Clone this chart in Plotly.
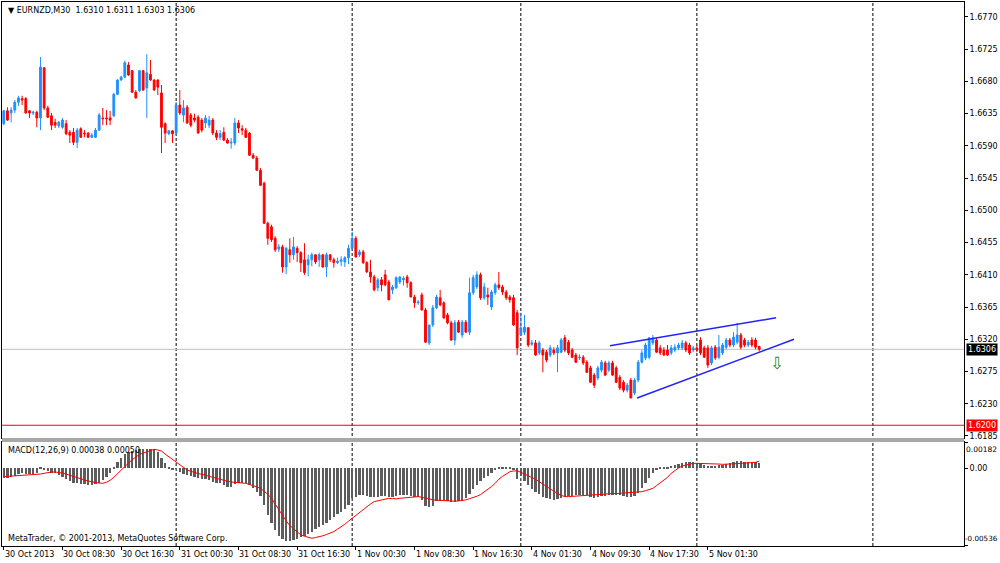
import plotly.graph_objects as go

# ---------------- data (EURNZD, M30) ----------------
open_ = [1.6621,1.6639,1.6636,1.6640,1.6651,1.6656,1.6656,1.6639,1.6636,1.6637,
1.6629,1.6699,1.6643,1.6632,1.6623,1.6618,1.6616,1.6621,1.6609,1.6609,
1.6595,1.6614,1.6608,1.6608,1.6602,1.6602,1.6612,1.6629,1.6629,1.6629,
1.6632,1.6662,1.6682,1.6686,1.6703,1.6695,1.6665,1.6667,1.6695,1.6671,
1.6690,1.6682,1.6682,1.6664,1.6621,1.6607,1.6611,1.6608,1.6647,1.6633,
1.6644,1.6633,1.6629,1.6630,1.6626,1.6622,1.6619,1.6626,1.6608,1.6602,
1.6609,1.6598,1.6594,1.6594,1.6622,1.6614,1.6612,1.6608,1.6577,1.6573,
1.6556,1.6538,1.6482,1.6477,1.6461,1.6446,1.6449,1.6421,1.6445,1.6438,
1.6447,1.6441,1.6431,1.6424,1.6431,1.6438,1.6431,1.6438,1.6421,1.6438,
1.6431,1.6427,1.6429,1.6428,1.6434,1.6447,1.6461,1.6438,1.6442,1.6427,
1.6414,1.6407,1.6392,1.6403,1.6410,1.6400,1.6389,1.6392,1.6400,1.6403,
1.6407,1.6399,1.6379,1.6371,1.6382,1.6361,1.6315,1.6340,1.6364,1.6378,
1.6371,1.6354,1.6343,1.6319,1.6344,1.6326,1.6344,1.6330,1.6385,1.6393,
1.6410,1.6378,1.6382,1.6365,1.6385,1.6396,1.6393,1.6386,1.6379,1.6378,
1.6357,1.6326,1.6330,1.6336,1.6313,1.6315,1.6301,1.6305,1.6302,1.6298,
1.6305,1.6301,1.6302,1.6322,1.6316,1.6305,1.6298,1.6294,1.6295,1.6288,
1.6280,1.6270,1.6266,1.6277,1.6287,1.6277,1.6287,1.6280,1.6267,1.6260,
1.6249,1.6263,1.6245,1.6263,1.6288,1.6294,1.6295,1.6315,1.6319,1.6308,
1.6305,1.6305,1.6301,1.6305,1.6308,1.6308,1.6315,1.6312,1.6305,1.6308,
1.6319,1.6308,1.6308,1.6287,1.6309,1.6295,1.6301,1.6309,1.6319,1.6312,
1.6316,1.6326,1.6319,1.6312,1.6319,1.6319,1.6310]

high = [1.6640,1.6644,1.6644,1.6654,1.6660,1.6660,1.6658,1.6640,1.6639,1.6639,
1.6714,1.6700,1.6646,1.6636,1.6628,1.6625,1.6629,1.6626,1.6612,1.6615,
1.6615,1.6616,1.6612,1.6609,1.6608,1.6615,1.6636,1.6643,1.6640,1.6639,
1.6664,1.6683,1.6688,1.6709,1.6707,1.6696,1.6668,1.6696,1.6696,1.6718,
1.6710,1.6683,1.6683,1.6675,1.6623,1.6612,1.6612,1.6651,1.6668,1.6654,
1.6647,1.6636,1.6635,1.6633,1.6629,1.6633,1.6632,1.6629,1.6612,1.6612,
1.6616,1.6601,1.6601,1.6629,1.6626,1.6619,1.6615,1.6609,1.6580,1.6576,
1.6559,1.6540,1.6484,1.6480,1.6464,1.6453,1.6452,1.6449,1.6461,1.6463,
1.6450,1.6443,1.6454,1.6438,1.6441,1.6439,1.6441,1.6439,1.6441,1.6439,
1.6434,1.6434,1.6436,1.6436,1.6452,1.6470,1.6464,1.6445,1.6445,1.6429,
1.6431,1.6410,1.6406,1.6407,1.6417,1.6403,1.6396,1.6408,1.6408,1.6408,
1.6410,1.6401,1.6382,1.6375,1.6385,1.6364,1.6340,1.6368,1.6382,1.6389,
1.6373,1.6357,1.6346,1.6347,1.6347,1.6347,1.6347,1.6406,1.6410,1.6415,
1.6413,1.6399,1.6392,1.6389,1.6399,1.6414,1.6396,1.6389,1.6382,1.6382,
1.6361,1.6357,1.6354,1.6337,1.6319,1.6319,1.6318,1.6308,1.6305,1.6312,
1.6309,1.6312,1.6322,1.6326,1.6319,1.6308,1.6301,1.6299,1.6298,1.6291,
1.6283,1.6273,1.6283,1.6291,1.6290,1.6290,1.6290,1.6283,1.6270,1.6263,
1.6259,1.6266,1.6266,1.6291,1.6305,1.6315,1.6323,1.6326,1.6322,1.6312,
1.6309,1.6312,1.6312,1.6313,1.6315,1.6319,1.6318,1.6315,1.6311,1.6312,
1.6323,1.6311,1.6312,1.6311,1.6312,1.6326,1.6315,1.6322,1.6322,1.6330,
1.6343,1.6329,1.6322,1.6319,1.6323,1.6322,1.6311]

low = [1.6619,1.6625,1.6623,1.6636,1.6646,1.6647,1.6635,1.6629,1.6633,1.6616,
1.6612,1.6640,1.6629,1.6612,1.6615,1.6615,1.6614,1.6605,1.6594,1.6591,
1.6587,1.6601,1.6602,1.6601,1.6601,1.6601,1.6611,1.6619,1.6619,1.6619,
1.6630,1.6661,1.6681,1.6685,1.6688,1.6664,1.6656,1.6665,1.6667,1.6629,
1.6681,1.6667,1.6661,1.6580,1.6594,1.6605,1.6594,1.6605,1.6633,1.6623,
1.6621,1.6616,1.6623,1.6607,1.6609,1.6615,1.6615,1.6605,1.6598,1.6598,
1.6597,1.6593,1.6586,1.6591,1.6608,1.6605,1.6601,1.6576,1.6572,1.6555,
1.6534,1.6481,1.6452,1.6456,1.6442,1.6442,1.6413,1.6411,1.6427,1.6431,
1.6428,1.6414,1.6410,1.6408,1.6422,1.6425,1.6421,1.6420,1.6407,1.6428,
1.6420,1.6425,1.6422,1.6421,1.6425,1.6445,1.6434,1.6435,1.6425,1.6413,
1.6399,1.6387,1.6387,1.6387,1.6394,1.6375,1.6383,1.6390,1.6397,1.6395,
1.6392,1.6379,1.6364,1.6368,1.6360,1.6315,1.6312,1.6337,1.6362,1.6366,
1.6348,1.6341,1.6318,1.6312,1.6329,1.6322,1.6329,1.6326,1.6382,1.6390,
1.6375,1.6375,1.6368,1.6361,1.6382,1.6389,1.6382,1.6375,1.6371,1.6339,
1.6298,1.6325,1.6326,1.6309,1.6311,1.6297,1.6298,1.6274,1.6288,1.6295,
1.6298,1.6274,1.6301,1.6302,1.6298,1.6294,1.6287,1.6291,1.6284,1.6273,
1.6259,1.6252,1.6263,1.6274,1.6269,1.6274,1.6269,1.6259,1.6249,1.6246,
1.6246,1.6238,1.6242,1.6260,1.6286,1.6291,1.6292,1.6312,1.6301,1.6298,
1.6297,1.6297,1.6298,1.6302,1.6305,1.6305,1.6302,1.6298,1.6302,1.6302,
1.6298,1.6294,1.6280,1.6284,1.6291,1.6292,1.6298,1.6306,1.6309,1.6309,
1.6313,1.6306,1.6309,1.6309,1.6309,1.6306,1.6303]

close = [1.6639,1.6626,1.6640,1.6651,1.6657,1.6654,1.6636,1.6636,1.6637,1.6629,
1.6700,1.6643,1.6630,1.6619,1.6619,1.6623,1.6626,1.6607,1.6605,1.6595,
1.6612,1.6602,1.6607,1.6602,1.6605,1.6612,1.6633,1.6628,1.6628,1.6626,
1.6662,1.6682,1.6686,1.6706,1.6689,1.6665,1.6657,1.6695,1.6668,1.6692,
1.6682,1.6668,1.6672,1.6616,1.6608,1.6611,1.6607,1.6647,1.6636,1.6643,
1.6622,1.6619,1.6626,1.6608,1.6612,1.6629,1.6626,1.6608,1.6602,1.6607,
1.6598,1.6594,1.6595,1.6622,1.6615,1.6612,1.6602,1.6577,1.6573,1.6556,
1.6535,1.6482,1.6461,1.6459,1.6445,1.6449,1.6421,1.6447,1.6438,1.6449,
1.6441,1.6427,1.6413,1.6431,1.6438,1.6428,1.6438,1.6421,1.6438,1.6431,
1.6427,1.6429,1.6431,1.6434,1.6447,1.6461,1.6435,1.6442,1.6427,1.6414,
1.6407,1.6389,1.6403,1.6396,1.6396,1.6375,1.6393,1.6406,1.6407,1.6405,
1.6399,1.6379,1.6371,1.6372,1.6361,1.6316,1.6340,1.6364,1.6379,1.6368,
1.6350,1.6343,1.6319,1.6343,1.6330,1.6344,1.6330,1.6385,1.6406,1.6410,
1.6378,1.6393,1.6379,1.6386,1.6396,1.6392,1.6386,1.6378,1.6375,1.6340,
1.6308,1.6336,1.6337,1.6312,1.6315,1.6298,1.6315,1.6298,1.6291,1.6308,
1.6301,1.6308,1.6319,1.6305,1.6301,1.6295,1.6288,1.6295,1.6287,1.6274,
1.6260,1.6256,1.6280,1.6288,1.6270,1.6287,1.6270,1.6260,1.6252,1.6249,
1.6256,1.6238,1.6263,1.6288,1.6301,1.6312,1.6322,1.6322,1.6302,1.6301,
1.6298,1.6298,1.6308,1.6309,1.6312,1.6315,1.6305,1.6301,1.6308,1.6305,
1.6301,1.6295,1.6284,1.6308,1.6294,1.6309,1.6312,1.6319,1.6312,1.6323,
1.6326,1.6309,1.6312,1.6316,1.6312,1.6309,1.6306]

# MACD(12,26,9) in points (1 point = 0.00001)
macd_main_pts = [-64,-64,-57,-52,-39,-34,-39,-41,-39,-34,
7,-6,-16,-29,-34,-46,-57,-75,-87,-98,
-103,-108,-110,-112,-112,-108,-98,-80,-62,-29,
7,44,72,99,113,122,127,132,136,136,
136,132,115,69,35,7,-10,-4,-23,-39,
-46,-52,-57,-69,-75,-75,-80,-92,-98,-103,
-115,-126,-126,-108,-98,-98,-103,-115,-138,-161,
-190,-253,-322,-379,-425,-466,-489,-501,-501,-494,
-489,-476,-466,-453,-437,-420,-407,-391,-374,-356,
-338,-315,-299,-282,-253,-207,-195,-184,-184,-190,
-195,-195,-195,-190,-190,-195,-195,-190,-184,-184,
-184,-190,-195,-195,-218,-259,-264,-259,-223,-223,
-218,-223,-230,-230,-223,-223,-207,-177,-144,-115,
-85,-69,-52,-34,-6,7,12,7,7,-6,
-70,-55,-85,-115,-140,-160,-180,-197,-207,-213,
-218,-213,-207,-195,-190,-190,-184,-184,-184,-184,
-195,-207,-200,-190,-190,-186,-184,-184,-186,-190,
-195,-200,-190,-167,-138,-103,-69,-34,-11,5,
7,12,17,23,30,40,42,42,42,40,
35,23,17,17,17,21,26,30,35,42,
49,51,46,44,44,44,38]

macd_signal_pts = [-57,-55,-55,-52,-50,-50,-48,-48,-46,-41,
-39,-34,-29,-25,-25,-27,-32,-39,-48,-57,
-64,-73,-80,-87,-94,-98,-101,-103,-96,-82,
-62,-36,-11,17,37,60,81,97,106,115,
125,132,127,120,99,81,60,40,21,5,
-11,-20,-29,-36,-41,-48,-55,-62,-71,-80,
-85,-89,-94,-98,-98,-101,-103,-110,-119,-128,
-138,-158,-179,-207,-246,-289,-328,-363,-395,-418,
-439,-460,-469,-478,-483,-478,-473,-466,-457,-446,
-437,-420,-404,-386,-365,-344,-324,-303,-282,-264,
-246,-230,-223,-216,-209,-207,-209,-211,-207,-204,
-202,-200,-197,-195,-200,-204,-211,-218,-220,-223,
-225,-227,-230,-227,-225,-223,-218,-209,-202,-193,
-181,-163,-147,-126,-103,-75,-55,-39,-23,-18,
-16,-27,-39,-50,-62,-75,-92,-108,-126,-142,
-161,-174,-186,-195,-195,-193,-190,-188,-188,-186,
-184,-181,-181,-179,-177,-177,-174,-174,-172,-172,
-172,-170,-167,-165,-161,-154,-147,-138,-119,-98,
-80,-62,-34,-13,3,17,23,30,35,35,
35,35,35,33,30,30,28,28,30,33,
33,35,37,40,42,42,50]

macd_main = [v / 100000 for v in macd_main_pts]
macd_signal = [v / 100000 for v in macd_signal_pts]

# time axis labels (every 16 bars) and day separators (bar numbers)
time_label_bars = [0, 16, 32, 48, 64, 80, 96, 112, 128, 144, 160, 176, 192]
time_labels = ["30 Oct 2013", "30 Oct 08:30", "30 Oct 16:30", "31 Oct 00:30",
               "31 Oct 08:30", "31 Oct 16:30", "1 Nov 00:30", "1 Nov 08:30",
               "1 Nov 16:30", "4 Nov 01:30", "4 Nov 09:30", "4 Nov 17:30",
               "5 Nov 01:30"]
day_separator_bars = [47, 95, 141, 189, 237]

price_ticks = [1.6770, 1.6725, 1.6680, 1.6635, 1.6590, 1.6545, 1.6500, 1.6455,
               1.6410, 1.6365, 1.6320, 1.6275, 1.6230, 1.6185]
macd_max, macd_zero, macd_min = 0.00182, 0.0, -0.00536

bid_price = 1.6306
level_price = 1.6200

# wedge trend lines (bar number, price)
upper_line_bars = [165.3, 210.6]
upper_line_prices = [1.6311, 1.6350]
lower_line_bars = [172.7, 215.5]
lower_line_prices = [1.6238, 1.6320]
arrow_bar, arrow_price = 210.8, 1.6287

header = "\u25BC EURNZD,M30  1.6310 1.6311 1.6303 1.6306"
macd_header = "MACD(12,26,9) 0.00038 0.00050"
copyright_text = "MetaTrader, \u00A9 2001-2013, MetaQuotes Software Corp."

# ---------------- figure ----------------
idx = list(range(len(close)))
FONT = "DejaVu Sans"

fig = go.Figure()
fig.add_trace(go.Candlestick(
    x=idx, open=open_, high=high, low=low, close=close,
    increasing=dict(line=dict(color="#1E90FF", width=1), fillcolor="#1E90FF"),
    decreasing=dict(line=dict(color="#FF0000", width=1), fillcolor="#FF0000"),
    whiskerwidth=0, xaxis="x", yaxis="y", showlegend=False, hoverinfo="skip"))
fig.add_trace(go.Bar(
    x=idx, y=macd_main, width=0.62,
    marker=dict(color="#5c5c5c", line=dict(width=0)),
    xaxis="x2", yaxis="y2", showlegend=False, hoverinfo="skip"))
fig.add_trace(go.Scatter(
    x=idx, y=macd_signal, mode="lines", line=dict(color="#FF0000", width=1),
    xaxis="x2", yaxis="y2", showlegend=False, hoverinfo="skip"))

main_bottom = (546 - 438) / 544
macd_top = (546 - 442) / 544
x_range = [-0.49, 261.85]

axis_common = dict(showline=True, mirror=True, linecolor="black", linewidth=1,
                   showgrid=False, zeroline=False, automargin=False)

fig.update_layout(
    width=1000, height=563,
    margin=dict(l=2, r=36, t=2, b=17, autoexpand=False),
    paper_bgcolor="white", plot_bgcolor="white",
    font=dict(family=FONT, size=8, color="black"),
    showlegend=False,
    bargap=0,
    xaxis=dict(domain=[0, 1], range=x_range, anchor="y", showticklabels=False,
               ticks="", rangeslider=dict(visible=False), **axis_common),
    yaxis=dict(domain=[main_bottom, 1], range=[1.61822, 1.67909], side="right",
               tickvals=price_ticks, ticktext=[f"{v:.4f}" for v in price_ticks],
               ticks="outside", ticklen=3, tickcolor="black", anchor="x",
               tickfont=dict(family=FONT, size=8), **axis_common),
    xaxis2=dict(domain=[0, 1], range=x_range, anchor="y2", matches="x",
                tickvals=time_label_bars, ticktext=[""] * len(time_label_bars),
                ticks="outside", ticklen=3, tickcolor="black", **axis_common),
    yaxis2=dict(domain=[0, macd_top], range=[-0.005365, 0.001825], side="right",
                tickvals=[macd_max, macd_zero, macd_min], ticktext=["", "0.00", ""],
                anchor="x2", ticks="outside", ticklen=3, tickcolor="black",
                tickfont=dict(family=FONT, size=8), **axis_common),
)

shapes = []
for b in day_separator_bars:
    shapes.append(dict(type="line", xref="x", yref="paper", x0=b, x1=b, y0=0, y1=1,
                       line=dict(color="black", width=1, dash="3px,2px"), layer="below"))
shapes.append(dict(type="line", xref="x domain", yref="y", x0=0, x1=1,
                   y0=bid_price, y1=bid_price, line=dict(color="#C0C0C0", width=1),
                   layer="below"))
shapes.append(dict(type="line", xref="x domain", yref="y", x0=0, x1=1,
                   y0=level_price, y1=level_price, line=dict(color="#FF0000", width=1),
                   layer="below"))
shapes.append(dict(type="line", xref="x", yref="y",
                   x0=upper_line_bars[0], x1=upper_line_bars[1],
                   y0=upper_line_prices[0], y1=upper_line_prices[1],
                   line=dict(color="#2222FF", width=1.5)))
shapes.append(dict(type="line", xref="x", yref="y",
                   x0=lower_line_bars[0], x1=lower_line_bars[1],
                   y0=lower_line_prices[0], y1=lower_line_prices[1],
                   line=dict(color="#2222FF", width=1.5)))
# gap between the two panels
shapes.append(dict(type="rect", xref="paper", yref="paper", x0=0, x1=1,
                   y0=macd_top, y1=main_bottom, fillcolor="#A8A8A8",
                   line=dict(width=0), layer="above"))
fig.update_layout(shapes=shapes)

ann = []
ann.append(dict(xref="paper", yref="paper", x=0, y=1, xanchor="left", yanchor="top",
                text=header, showarrow=False, xshift=4, yshift=-2,
                font=dict(family=FONT, size=8, color="black")))
ann.append(dict(xref="paper", yref="paper", x=0, y=macd_top, xanchor="left",
                yanchor="top", text=macd_header, showarrow=False, xshift=4, yshift=-2,
                font=dict(family=FONT, size=8, color="black")))
ann.append(dict(xref="paper", yref="paper", x=0, y=0, xanchor="left",
                yanchor="bottom", text=copyright_text, showarrow=False, xshift=4,
                yshift=1, font=dict(family=FONT, size=8, color="black")))
for b, t in zip(time_label_bars, time_labels):
    ann.append(dict(xref="x2", yref="paper", x=b, y=0, xanchor="left", yanchor="top",
                    text=t, showarrow=False, xshift=-1, yshift=-2,
                    font=dict(family=FONT, size=8, color="black")))
# MACD window max / min labels (kept inside the window like the terminal does)
ann.append(dict(xref="paper", yref="y2", x=1, y=macd_max, xanchor="left",
                yanchor="top", text=f"{macd_max:.5f}", showarrow=False, xshift=0,
                yshift=-1, font=dict(family=FONT, size=7.5, color="black")))
ann.append(dict(xref="paper", yref="y2", x=1, y=macd_min, xanchor="left",
                yanchor="bottom", text=f"{macd_min:.5f}", showarrow=False, xshift=-1,
                yshift=1, font=dict(family=FONT, size=7.2, color="black")))
ann.append(dict(xref="paper", yref="y", x=1, y=bid_price, xanchor="left",
                yanchor="middle", text=f"{bid_price:.4f}", showarrow=False, xshift=2,
                bgcolor="black", borderpad=1,
                font=dict(family=FONT, size=8, color="white")))
ann.append(dict(xref="paper", yref="y", x=1, y=level_price, xanchor="left",
                yanchor="middle", text=f"{level_price:.4f}", showarrow=False, xshift=2,
                bgcolor="#FF0000", borderpad=1,
                font=dict(family=FONT, size=8, color="white")))
ann.append(dict(xref="x", yref="y", x=arrow_bar, y=arrow_price, text="\u21E9",
                showarrow=False, font=dict(family=FONT, size=17, color="#2E8B2E")))
fig.update_layout(annotations=ann)

fig.write_html("out.html",
               config={"displayModeBar": False, "responsive": False},
               post_script="document.body.style.margin='0';"
                           "document.body.style.overflow='hidden';")
